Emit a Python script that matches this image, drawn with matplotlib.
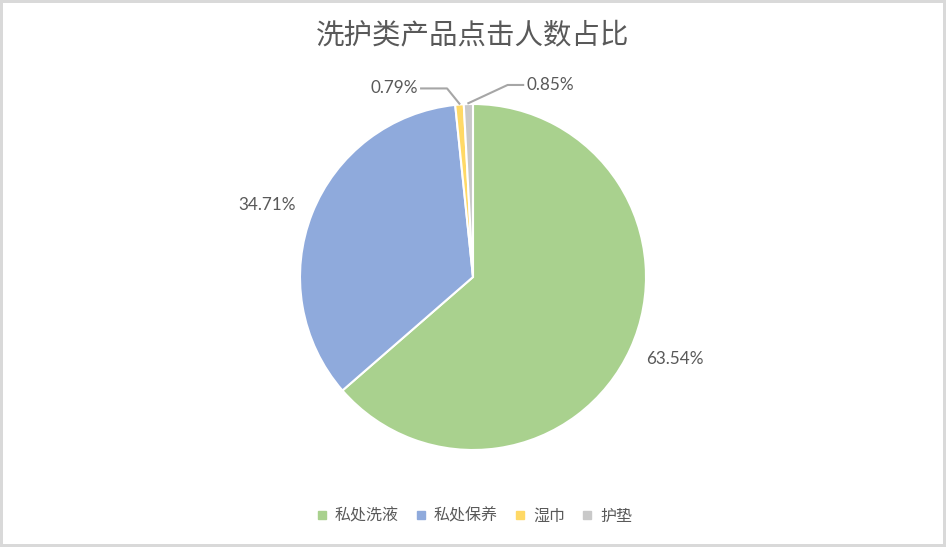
import numpy as np
import matplotlib.pyplot as plt
from matplotlib.lines import Line2D

plt.rcParams['font.family'] = ['Noto Sans CJK SC', 'DejaVu Sans']

categories = ['私处洗液', '私处保养', '湿巾', '护垫']
shares = [63.54, 34.71, 0.79, 0.85]
colors = ['#A9D18E', '#8FAADC', '#FFD966', '#C9C9C9']
text_color = '#595959'

fig = plt.figure(figsize=(9.46, 5.47), dpi=100)
fig.patch.set_edgecolor('#D9D9D9')
fig.patch.set_linewidth(3)

# square axes so the pie sits at (473, 277) px with radius 173 px
W, H = 946, 547
cx, cy, r = 473, 277, 173
ax = fig.add_axes([(cx - r) / W, (H - cy - r) / H, 2 * r / W, 2 * r / H])

wedges, _ = ax.pie(shares, colors=colors, startangle=90, counterclock=False,
                   radius=1, wedgeprops=dict(edgecolor='white', linewidth=1.5))
ax.set_xlim(-1, 1)
ax.set_ylim(-1, 1)
ax.set_aspect('equal')
ax.axis('off')

lbl_font = dict(fontsize=12.3, color=text_color, family=['Lato', 'DejaVu Sans'])

for i, (w, v) in enumerate(zip(wedges, shares)):
    mid = np.deg2rad((w.theta1 + w.theta2) / 2)
    ex, ey = np.cos(mid), np.sin(mid)
    label = f'{v:.2f}%'
    if v > 5:
        ax.text(1.26 * np.cos(mid + 0.04), 1.26 * np.sin(mid + 0.04), label,
                ha='center', va='center', **lbl_font)
    else:
        # small slices get a leader line, last one to the right
        side = 1 if i == len(shares) - 1 else -1
        px, py = ex * 1.005, ey * 1.005
        if side < 0:
            elbow = (-0.15, 1.09)
            end = (-0.30, 1.09)
        else:
            elbow = (0.20, 1.11)
            end = (0.29, 1.11)
        ax.plot([px, elbow[0], end[0]], [py, elbow[1], end[1]],
                color='#A6A6A6', lw=1.5, clip_on=False)
        ax.text(end[0] + side * 0.02, end[1], label,
                ha='left' if side > 0 else 'right', va='center', **lbl_font)

fig.text(0.5, 1 - 35 / H, '洗护类产品点击人数占比', ha='center', va='center',
         fontsize=20.5, color=text_color)

handles = [Line2D([], [], marker='s', linestyle='none', markersize=6,
                  markerfacecolor=c, markeredgecolor=c) for c in colors]
fig.legend(handles, categories, loc='center', bbox_to_anchor=(0.5, 1 - 516 / H),
           ncol=4, frameon=False, handletextpad=0.3, columnspacing=0.9,
           handlelength=1.0, prop=dict(size=11.5), labelcolor=text_color)

fig.savefig('out.png', dpi=100)
